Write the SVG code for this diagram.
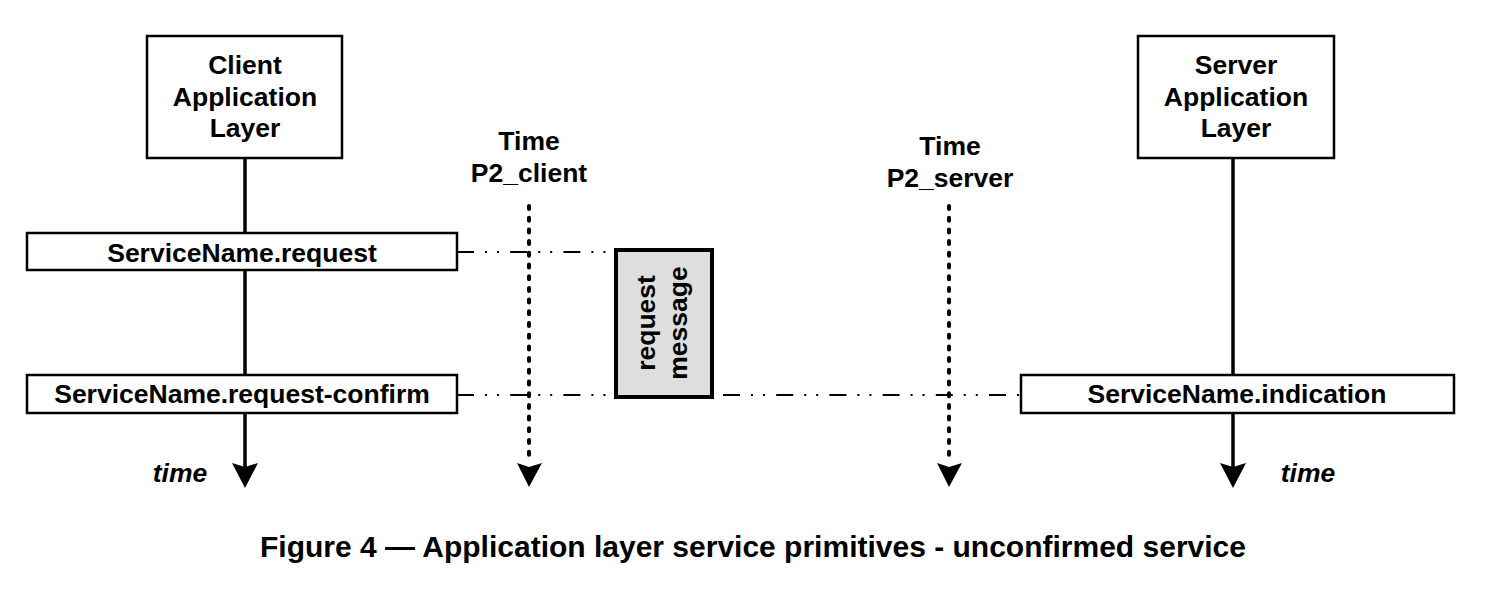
<svg xmlns="http://www.w3.org/2000/svg" width="1506" height="603" viewBox="0 0 1506 603">
<style>
text{font-family:"Liberation Sans",Arial,sans-serif;font-weight:bold;font-size:26.5px;fill:#000;text-anchor:middle}
.box{fill:#fff;stroke:#000;stroke-width:2.5}
.life{stroke:#000;stroke-width:3.5;fill:none}
.dot{stroke:#000;stroke-width:4;fill:none;stroke-dasharray:3 8.7;stroke-linecap:round}
.dd{stroke:#000;stroke-width:2;fill:none;stroke-dasharray:17 11 2 10 2 11.2}
.head{fill:#000}
.it{font-style:italic}
</style>
<g id="connectors">
<line class="life" x1="245" y1="158" x2="245" y2="468"/>
<polygon class="head" points="232,463 245,467 258,463 245,488"/>
<line class="life" x1="1233" y1="158" x2="1233" y2="468"/>
<polygon class="head" points="1220,463 1233,467 1246,463 1233,488"/>
<line class="dot" x1="529" y1="206" x2="529" y2="462"/>
<polygon class="head" points="517,463 529,467 542,463 529,487"/>
<line class="dot" x1="949" y1="206" x2="949" y2="462"/>
<polygon class="head" points="937,463 949,467 962,463 949,487"/>
<line class="dd" x1="457" y1="252" x2="614" y2="252"/>
<line class="dd" x1="457" y1="395" x2="1021" y2="395"/>
</g>
<g id="client">
<rect class="box" x="147" y="36" width="195" height="122"/>
<text x="245" y="74">Client</text>
<text x="245" y="106">Application</text>
<text x="245" y="137">Layer</text>
</g>
<g id="server">
<rect class="box" x="1138" y="36" width="196" height="122"/>
<text x="1236" y="74">Server</text>
<text x="1236" y="106">Application</text>
<text x="1236" y="137">Layer</text>
</g>
<g id="req">
<rect class="box" x="27" y="233" width="430" height="37"/>
<text x="242" y="262">ServiceName.request</text>
</g>
<g id="reqconf">
<rect class="box" x="27" y="375" width="430" height="38"/>
<text x="242" y="403">ServiceName.request-confirm</text>
</g>
<g id="ind">
<rect class="box" x="1021" y="375" width="433" height="38"/>
<text x="1237" y="403">ServiceName.indication</text>
</g>
<g id="msg">
<rect x="616" y="250" width="96" height="147" fill="#dedede" stroke="#000" stroke-width="4"/>
<g transform="translate(664,323) rotate(-90)">
<text x="0" y="-9">request</text>
<text x="0" y="23">message</text>
</g>
</g>
<g id="p2client">
<text x="529" y="150">Time</text>
<text x="529" y="182">P2_client</text>
</g>
<g id="p2server">
<text x="950" y="155">Time</text>
<text x="950" y="187">P2_server</text>
</g>
<text class="it" x="180" y="482">time</text>
<text class="it" x="1308" y="482">time</text>
<text x="753" y="557" style="font-size:30px">Figure 4 — Application layer service primitives - unconfirmed service</text>
</svg>
